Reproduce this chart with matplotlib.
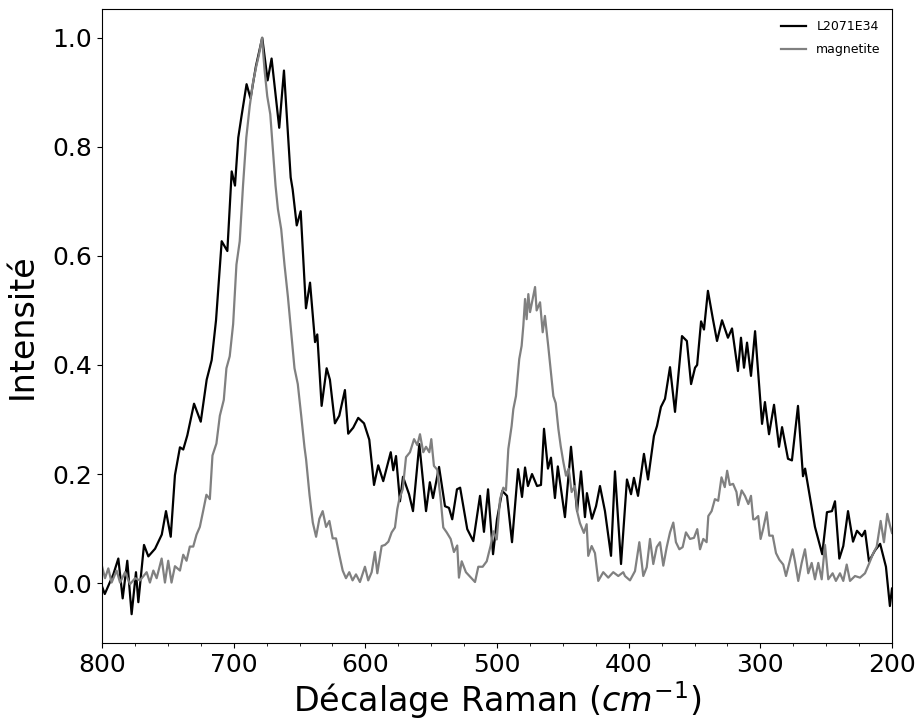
import numpy as np
import matplotlib
matplotlib.use('Agg')
import matplotlib.pyplot as plt
from matplotlib.ticker import MultipleLocator

# L2071E34 spectrum (black)
sample_x = [800.0, 797.9, 791.4, 787.6, 784.3, 780.8, 777.5, 774.2, 772.4, 768.1,
            764.8, 759.7, 754.6, 751.4, 747.8, 744.6, 740.8, 738.3, 735.2, 730.1,
            725.0, 720.5, 716.7, 713.4, 709.1, 704.8, 701.5, 699.0, 696.5, 694.0,
            690.2, 687.2, 683.1, 678.3, 674.2, 671.2, 665.4, 661.8, 656.7, 655.2,
            652.1, 649.1, 645.1, 642.0, 638.2, 636.5, 633.2, 629.4, 626.9, 623.1,
            619.8, 615.5, 613.0, 609.2, 605.4, 601.0, 597.0, 593.4, 590.2, 586.4,
            580.7, 578.8, 576.7, 573.7, 571.4, 566.8, 563.8, 559.0, 553.9, 551.0,
            548.6, 544.0, 539.5, 536.5, 534.0, 530.4, 528.0, 522.6, 518.0, 512.9,
            509.9, 506.8, 503.0, 500.0, 496.0, 492.4, 488.6, 484.0, 481.0, 478.7,
            476.5, 473.4, 469.6, 466.6, 464.3, 461.3, 459.0, 456.0, 453.8, 448.4,
            443.8, 439.2, 436.2, 433.2, 431.7, 427.9, 424.8, 421.8, 418.0, 413.4,
            410.4, 405.8, 401.3, 398.2, 396.0, 392.9, 388.4, 385.3, 380.8, 378.5,
            375.5, 372.4, 368.6, 364.8, 359.5, 355.8, 352.6, 349.6, 348.0, 345.0,
            342.8, 339.8, 336.0, 332.9, 329.1, 324.6, 321.5, 317.0, 314.7, 312.4,
            310.1, 307.1, 304.0, 298.7, 296.5, 293.4, 289.6, 285.8, 283.5, 279.0,
            276.0, 271.4, 267.6, 266.0, 258.5, 256.0, 253.0, 249.4, 245.6, 243.3,
            240.0, 237.0, 233.4, 229.6, 226.6, 222.8, 220.5, 217.5, 212.9, 209.0,
            204.6, 201.6, 200.0]
sample_y = [-0.006, -0.02, 0.016, 0.045, -0.028, 0.041, -0.057, 0.02, -0.035, 0.07,
            0.049, 0.063, 0.089, 0.132, 0.085, 0.198, 0.249, 0.245, 0.271, 0.329,
            0.296, 0.373, 0.409, 0.482, 0.627, 0.609, 0.755, 0.729, 0.817, 0.857,
            0.915, 0.889, 0.948, 1.0, 0.922, 0.962, 0.835, 0.94, 0.744, 0.722,
            0.656, 0.682, 0.504, 0.551, 0.442, 0.456, 0.325, 0.394, 0.373, 0.293,
            0.307, 0.354, 0.274, 0.285, 0.303, 0.293, 0.263, 0.18, 0.216, 0.187,
            0.24, 0.207, 0.233, 0.15, 0.195, 0.163, 0.132, 0.255, 0.132, 0.185,
            0.156, 0.213, 0.141, 0.138, 0.117, 0.172, 0.175, 0.099, 0.077, 0.16,
            0.094, 0.172, 0.053, 0.117, 0.169, 0.16, 0.075, 0.209, 0.158, 0.212,
            0.178, 0.2, 0.178, 0.18, 0.283, 0.21, 0.23, 0.156, 0.214, 0.121,
            0.25, 0.132, 0.205, 0.121, 0.165, 0.118, 0.141, 0.178, 0.132, 0.05,
            0.205, 0.035, 0.19, 0.163, 0.193, 0.16, 0.237, 0.19, 0.27, 0.288,
            0.323, 0.338, 0.396, 0.314, 0.453, 0.444, 0.365, 0.395, 0.40, 0.48,
            0.465, 0.536, 0.484, 0.444, 0.482, 0.45, 0.467, 0.389, 0.45, 0.395,
            0.441, 0.38, 0.462, 0.292, 0.332, 0.273, 0.327, 0.25, 0.286, 0.228,
            0.225, 0.325, 0.196, 0.21, 0.103, 0.08, 0.053, 0.13, 0.132, 0.15,
            0.045, 0.068, 0.132, 0.076, 0.096, 0.086, 0.096, 0.04, 0.06, 0.072,
            0.03, -0.042, -0.01]

# magnetite reference spectrum (grey)
ref_x = [800.0, 797.7, 795.2, 792.7, 788.9, 786.3, 782.5, 778.7, 774.9, 771.1,
         766.1, 763.6, 761.0, 758.5, 754.7, 752.2, 749.7, 747.2, 744.6, 740.8,
         738.3, 735.8, 733.3, 730.7, 728.2, 725.7, 723.2, 720.7, 718.1, 716.1,
         713.1, 710.5, 707.5, 705.5, 703.0, 700.4, 697.9, 695.4, 692.9, 690.4,
         687.8, 685.3, 682.8, 680.8, 678.5, 676.5, 674.5, 672.2, 670.2, 668.2,
         666.4, 663.9, 661.4, 658.8, 656.3, 653.8, 651.3, 648.7, 646.2, 645.0,
         642.4, 639.9, 637.4, 634.9, 632.4, 629.8, 627.3, 624.8, 622.3, 619.8,
         617.2, 614.7, 612.2, 609.7, 607.1, 604.1, 600.3, 597.8, 595.2, 592.7,
         590.9, 587.6, 585.1, 582.5, 580.0, 577.5, 575.7, 574.2, 571.6, 569.1,
         566.1, 563.0, 560.5, 558.5, 556.0, 553.9, 551.4, 549.9, 547.9, 545.4,
         542.8, 540.8, 538.2, 535.2, 532.7, 530.2, 528.9, 526.8, 523.6, 520.5,
         516.7, 514.2, 510.9, 507.8, 504.8, 502.8, 500.2, 497.7, 495.2, 493.2,
         491.4, 488.9, 487.6, 485.6, 483.1, 481.3, 480.0, 478.7, 477.5, 476.2,
         474.9, 472.9, 471.1, 469.9, 467.3, 465.3, 463.6, 461.1, 459.3, 457.2,
         455.4, 453.4, 451.6, 449.6, 447.6, 445.6, 443.3, 440.8, 439.0, 437.0,
         434.0, 431.9, 430.7, 428.1, 425.6, 423.1, 419.3, 415.5, 411.7, 407.9,
         404.1, 402.8, 399.0, 395.2, 391.9, 388.9, 386.3, 383.8, 381.3, 378.7,
         376.2, 373.7, 371.1, 368.6, 366.1, 364.1, 361.5, 359.0, 356.5, 353.4,
         350.4, 347.9, 345.8, 343.3, 340.8, 339.5, 337.0, 334.5, 332.0, 329.5,
         327.0, 325.2, 323.2, 320.7, 318.1, 316.8, 314.2, 311.7, 309.1, 307.1,
         305.4, 304.1, 301.6, 299.8, 297.8, 295.2, 293.2, 290.6, 288.1, 285.6,
         282.6, 280.5, 278.0, 275.5, 273.7, 271.2, 268.6, 266.1, 263.6, 261.0,
         258.5, 256.0, 253.4, 250.9, 248.4, 245.1, 242.6, 239.5, 237.0, 234.4,
         231.9, 228.1, 224.3, 220.5, 217.2, 214.2, 211.6, 208.6, 206.1, 203.6,
         201.5, 200.0]
ref_y = [0.031, 0.009, 0.027, 0.001, 0.023, 0.001, 0.020, -0.002, 0.009, 0.005,
         0.020, 0.001, 0.023, 0.009, 0.045, 0.001, 0.041, 0.001, 0.031, 0.023,
         0.052, 0.041, 0.067, 0.067, 0.089, 0.103, 0.132, 0.162, 0.154, 0.234,
         0.256, 0.307, 0.336, 0.394, 0.416, 0.475, 0.584, 0.627, 0.729, 0.817,
         0.875, 0.918, 0.948, 0.969, 1.0, 0.940, 0.893, 0.860, 0.795, 0.729,
         0.686, 0.649, 0.584, 0.525, 0.460, 0.394, 0.365, 0.307, 0.249, 0.227,
         0.162, 0.111, 0.085, 0.118, 0.132, 0.103, 0.114, 0.082, 0.082, 0.052,
         0.023, 0.009, 0.020, 0.005, 0.016, 0.002, 0.03, 0.005, 0.02, 0.057,
         0.018, 0.068, 0.07, 0.076, 0.093, 0.102, 0.136, 0.154, 0.172, 0.231,
         0.24, 0.264, 0.253, 0.273, 0.24, 0.25, 0.24, 0.264, 0.215, 0.208,
         0.154, 0.102, 0.093, 0.081, 0.057, 0.069, 0.01, 0.04, 0.02, 0.012,
         0.002, 0.03, 0.03, 0.04, 0.069, 0.095, 0.08, 0.154, 0.175, 0.17,
         0.246, 0.288, 0.319, 0.343, 0.411, 0.435, 0.472, 0.521, 0.484, 0.530,
         0.497, 0.521, 0.543, 0.50, 0.515, 0.46, 0.49, 0.435, 0.393, 0.343,
         0.33, 0.283, 0.251, 0.222, 0.197, 0.21, 0.167, 0.178, 0.13, 0.11,
         0.092, 0.108, 0.05, 0.068, 0.055, 0.004, 0.02, 0.01, 0.02, 0.013,
         0.02, 0.013, 0.005, 0.022, 0.075, 0.013, 0.029, 0.081, 0.035, 0.066,
         0.075, 0.032, 0.066, 0.093, 0.111, 0.075, 0.062, 0.066, 0.093, 0.081,
         0.083, 0.099, 0.062, 0.081, 0.075, 0.123, 0.132, 0.154, 0.151, 0.194,
         0.176, 0.206, 0.18, 0.182, 0.167, 0.143, 0.17, 0.16, 0.145, 0.16,
         0.117, 0.117, 0.123, 0.081, 0.1, 0.13, 0.087, 0.087, 0.055, 0.043,
         0.034, 0.013, 0.037, 0.062, 0.04, 0.004, 0.037, 0.062, 0.018, 0.037,
         0.007, 0.037, 0.007, 0.07, 0.007, 0.018, 0.004, 0.018, 0.004, 0.034,
         0.004, 0.013, 0.01, 0.018, 0.037, 0.055, 0.067, 0.114, 0.075, 0.127,
         0.105, 0.092]

fig = plt.figure(figsize=(9.18, 7.18), dpi=100)
ax = fig.add_axes([102 / 918, 75 / 718, 790 / 918, 634 / 718])

ax.plot(sample_x, sample_y, color='black', lw=1.6, label='L2071E34')
ax.plot(ref_x, ref_y, color='grey', lw=1.6, label='magnetite')

ax.set_xlim(800, 200)
ax.xaxis.set_major_locator(MultipleLocator(100))
ax.xaxis.set_minor_locator(MultipleLocator(25))
ax.set_yticks([0.0, 0.2, 0.4, 0.6, 0.8, 1.0])
ax.tick_params(labelsize=18)

ax.set_xlabel('Décalage Raman ($cm^{-1}$)', fontsize=24, labelpad=2)
ax.set_ylabel('Intensité', fontsize=24, labelpad=10)
ax.legend(loc='upper right', frameon=False, fontsize=9, labelspacing=0.8)

fig.savefig('out.png', dpi=100)
